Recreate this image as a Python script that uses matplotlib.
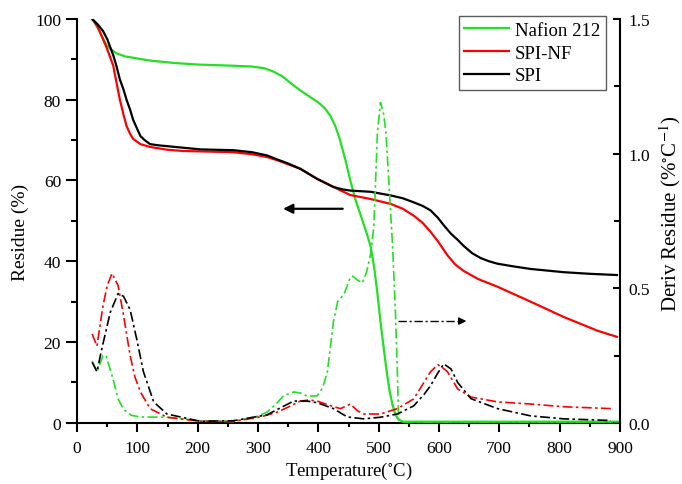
import matplotlib
matplotlib.use("Agg")
from matplotlib import pyplot as plt
from matplotlib.ticker import MultipleLocator

plt.rcParams['font.family'] = ['Liberation Serif', 'DejaVu Serif']
plt.rcParams['mathtext.fontset'] = 'stix'

# residue curves (%)
t_naf = [25, 30, 35, 40, 45, 50, 55, 65, 80, 100, 120, 160, 200, 260, 290, 310, 325, 340, 355,
         370, 385, 400, 410, 420, 428, 435, 445, 453, 462, 470, 480, 487, 493, 498, 503, 508,
         513, 518, 523, 528, 533, 540, 560, 900]
r_naf = [100, 99, 97.5, 96, 94.5, 93.3, 92.6, 91.5, 90.7, 90.2, 89.7, 89.1, 88.7, 88.4, 88.2,
         87.8, 87, 85.8, 84, 82.3, 80.8, 79.3, 78, 76, 73.5, 70.5, 65, 60, 55, 51.5, 47, 43.5,
         38, 32, 25, 19, 13, 8, 4.5, 2, 0.8, 0.3, 0.3, 0.3]

t_nf = [25, 35, 43, 50, 60, 65, 71, 77, 82, 88, 93, 105, 121, 150, 176, 259, 290, 315, 332, 350,
        370, 398, 425, 453, 487, 520, 540, 558, 573, 586, 598, 614, 627, 641, 665, 697, 752, 807,
        863, 895]
r_nf = [100, 97.8, 95, 92.5, 88.4, 84.5, 80, 76.3, 73.5, 71.5, 70.3, 69, 68.3, 67.6, 67.3, 67,
        66.5, 65.8, 65, 64, 62.9, 60.4, 58.4, 56.4, 55.4, 54.2, 53, 51.3, 49.5, 47.3, 45, 41.5,
        39.2, 37.6, 35.6, 33.7, 30, 26.2, 22.8, 21.3]

t_spi = [25, 35, 43, 50, 60, 65, 71, 77, 82, 88, 93, 99, 105, 112, 121, 135, 149, 204, 259, 290,
         315, 332, 350, 370, 398, 425, 440, 453, 487, 520, 540, 558, 573, 586, 598, 608, 620,
         631, 641, 655, 669, 683, 697, 725, 752, 807, 850, 895]
r_spi = [100, 98.5, 97, 95, 91, 88.5, 85, 82.5, 80, 77.5, 75, 73, 71, 70, 69, 68.7, 68.5, 67.7,
         67.5, 67, 66.2, 65.2, 64.2, 62.9, 60.4, 58.4, 57.8, 57.5, 57.2, 56.3, 55.6, 54.6, 53.7,
         52.6, 50.8, 48.9, 46.8, 45.3, 43.8, 42, 40.8, 40, 39.4, 38.7, 38.1, 37.3, 36.9, 36.6]

# derivative curves (%/C)
td_naf = [25, 33, 43, 48, 60, 68, 77, 90, 105, 149, 204, 259, 300, 315, 330, 342, 359, 372, 381,
          398, 407, 415, 425, 432, 443, 453, 457, 465, 473, 480, 487, 492, 498, 503, 508, 512,
          517, 523, 528, 531, 533, 540, 900]
d_naf = [0.23, 0.19, 0.25, 0.25, 0.16, 0.09, 0.05, 0.028, 0.022, 0.021, 0.008, 0.005, 0.025,
         0.04, 0.07, 0.10, 0.115, 0.11, 0.10, 0.10, 0.13, 0.19, 0.375, 0.45, 0.48, 0.54, 0.545,
         0.53, 0.52, 0.56, 0.63, 0.73, 1.08, 1.19, 1.15, 1.08, 0.89, 0.66, 0.4, 0.19, 0.015,
         0.004, 0.004]

td_nf = [25, 33, 43, 50, 58, 68, 77, 88, 96, 105, 121, 149, 204, 259, 304, 332, 354, 370, 385,
         398, 425, 437, 453, 465, 475, 503, 531, 558, 575, 586, 598, 606, 614, 631, 653, 697, 752,
         807, 885]
d_nf = [0.33, 0.285, 0.435, 0.51, 0.555, 0.51, 0.40, 0.25, 0.17, 0.115, 0.053, 0.021, 0.006,
        0.005, 0.022, 0.04, 0.063, 0.081, 0.085, 0.081, 0.06, 0.053, 0.07, 0.045, 0.033, 0.033,
        0.053, 0.089, 0.15, 0.19, 0.216, 0.205, 0.19, 0.126, 0.096, 0.078, 0.07, 0.06, 0.053]

td_spi = [25, 33, 41, 55, 68, 77, 88, 99, 110, 127, 149, 204, 259, 315, 332, 359, 381, 398, 425,
          448, 475, 503, 531, 558, 575, 586, 598, 608, 620, 631, 653, 697, 752, 807, 885]
d_spi = [0.225, 0.19, 0.275, 0.41, 0.48, 0.47, 0.42, 0.31, 0.19, 0.078, 0.033, 0.006, 0.008,
         0.03, 0.05, 0.081, 0.081, 0.075, 0.053, 0.022, 0.015, 0.021, 0.033, 0.063, 0.105,
         0.138, 0.185, 0.219, 0.20, 0.15, 0.09, 0.053, 0.026, 0.015, 0.009]

GREEN = '#22e022'
RED = '#ff0000'
BLACK = '#000000'
dd = (6, 2, 1.5, 2)

fig = plt.figure(figsize=(6.82, 4.85), dpi=100)
ax = fig.add_axes([0.113, 0.126, 0.796, 0.833])
ax2 = ax.twinx()

ax.plot(t_naf, r_naf, color=GREEN, lw=1.6, label='Nafion 212', zorder=3)
ax.plot(t_nf, r_nf, color=RED, lw=1.6, label='SPI-NF', zorder=3)
ax.plot(t_spi, r_spi, color=BLACK, lw=1.6, label='SPI', zorder=3)

ax2.plot(td_naf, d_naf, color=GREEN, lw=1.2, dashes=dd)
ax2.plot(td_nf, d_nf, color=RED, lw=1.2, dashes=dd)
ax2.plot(td_spi, d_spi, color=BLACK, lw=1.2, dashes=dd)

ax.set_xlim(0, 900)
ax.set_ylim(0, 100)
ax2.set_ylim(0, 1.5)

ax.xaxis.set_major_locator(MultipleLocator(100))
ax.xaxis.set_minor_locator(MultipleLocator(50))
ax.yaxis.set_major_locator(MultipleLocator(20))
ax.yaxis.set_minor_locator(MultipleLocator(10))
ax2.yaxis.set_major_locator(MultipleLocator(0.5))
ax2.yaxis.set_minor_locator(MultipleLocator(0.25))
ax2.yaxis.set_major_formatter(plt.FormatStrFormatter('%.1f'))

for a in (ax, ax2):
    a.spines['top'].set_visible(False)
    for s in a.spines.values():
        s.set_linewidth(1.5)
ax.spines['right'].set_visible(False)
ax2.spines['left'].set_visible(False)
ax2.spines['bottom'].set_visible(False)

ax.tick_params(axis='y', which='major', direction='out', length=8, width=1.5, labelsize=12.5)
ax.tick_params(axis='y', which='minor', direction='out', length=4.5, width=1.5)
ax.tick_params(axis='x', which='major', direction='out', length=6.5, width=1.5, labelsize=12.5, pad=6)
ax.tick_params(axis='x', which='minor', direction='out', length=3, width=1.5)
ax2.tick_params(axis='y', which='major', direction='in', length=5, width=1.5, labelsize=12.5, pad=6)
ax2.tick_params(axis='y', which='minor', direction='in', length=4, width=1.5)

ax.set_xlabel('Temperature($^{\\circ}$C)', fontsize=13.5)
ax.set_ylabel('Residue (%)', fontsize=14)
ax2.set_ylabel('Deriv Residue (%$^{\\circ}$C$^{-1}$)', fontsize=15)
ax.xaxis.set_label_coords(0.5, -0.092)
ax.yaxis.set_label_coords(-0.088, 0.475)
ax2.yaxis.set_label_coords(1.068, 0.52)

leg = ax.legend(loc='upper right', bbox_to_anchor=(0.974, 1.007), fontsize=13.5, frameon=True,
                fancybox=False, handlelength=2.4, handletextpad=0.3, borderpad=0.3,
                labelspacing=0.3, borderaxespad=0)
leg.get_frame().set_edgecolor('#333333')
leg.get_frame().set_linewidth(1.0)

ax.annotate('', xy=(337, 53), xytext=(445, 53),
            arrowprops=dict(arrowstyle='-|>', color='black', lw=1.6, mutation_scale=14))
ax.plot([532, 640], [25.2, 25.2], color='black', lw=1.0, dashes=dd)
ax.annotate('', xy=(650, 25.2), xytext=(635, 25.2),
            arrowprops=dict(arrowstyle='-|>', color='black', lw=1.0, mutation_scale=11))

fig.savefig('out.png', dpi=100)
